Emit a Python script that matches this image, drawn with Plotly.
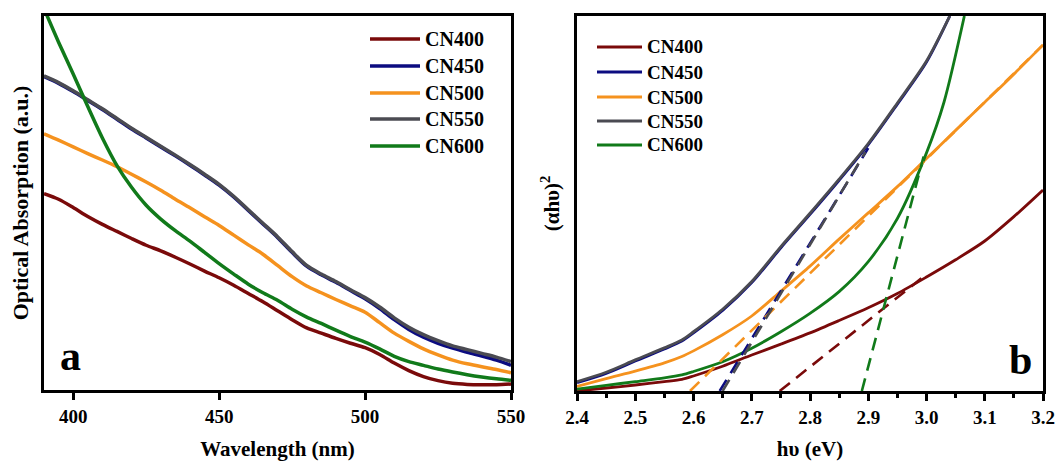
import plotly.graph_objects as go

# ---------------- Panel (a): optical absorption ----------------
wavelength = [390, 395, 400, 405, 410, 415, 420, 425, 430, 435, 440, 445, 450, 455, 460,
              465, 470, 475, 480, 485, 490, 495, 500, 505, 510, 515, 520, 525, 530, 535,
              540, 545, 550]
abs_cn400 = [0.525, 0.51, 0.488, 0.464, 0.443, 0.424, 0.405, 0.387, 0.372, 0.355, 0.337, 0.318,
             0.30, 0.28, 0.258, 0.236, 0.212, 0.188, 0.166, 0.152, 0.138, 0.125, 0.113, 0.095,
             0.072, 0.052, 0.036, 0.025, 0.018, 0.015, 0.014, 0.014, 0.016]
abs_cn450 = [0.838, 0.82, 0.798, 0.774, 0.75, 0.724, 0.698, 0.674, 0.65, 0.626, 0.601, 0.575,
             0.548, 0.516, 0.48, 0.444, 0.408, 0.368, 0.331, 0.308, 0.288, 0.266, 0.244, 0.218,
             0.188, 0.162, 0.141, 0.125, 0.112, 0.101, 0.091, 0.08, 0.066]
abs_cn500 = [0.685, 0.668, 0.65, 0.632, 0.615, 0.597, 0.577, 0.556, 0.534, 0.51, 0.487, 0.463,
             0.44, 0.414, 0.388, 0.363, 0.333, 0.303, 0.278, 0.26, 0.242, 0.225, 0.208, 0.18,
             0.152, 0.13, 0.11, 0.094, 0.08, 0.07, 0.062, 0.055, 0.046]
abs_cn550 = [0.84, 0.822, 0.80, 0.776, 0.752, 0.726, 0.70, 0.676, 0.652, 0.628, 0.603, 0.577,
             0.55, 0.518, 0.482, 0.446, 0.41, 0.37, 0.333, 0.31, 0.29, 0.268, 0.247, 0.222,
             0.193, 0.168, 0.148, 0.132, 0.118, 0.108, 0.098, 0.088, 0.076]
abs_cn600 = [1.02, 0.93, 0.845, 0.758, 0.674, 0.600, 0.542, 0.494, 0.457, 0.426, 0.398, 0.368,
             0.338, 0.31, 0.283, 0.26, 0.24, 0.216, 0.195, 0.178, 0.16, 0.143, 0.128, 0.11,
             0.09, 0.076, 0.066, 0.056, 0.048, 0.041, 0.035, 0.03, 0.026]

# ---------------- Panel (b): Tauc plot ----------------
ev_full = [2.40, 2.45, 2.50, 2.55, 2.58, 2.60, 2.65, 2.70, 2.75, 2.80, 2.85, 2.90, 2.95,
           3.00, 3.05, 3.10, 3.15, 3.20]
tauc_cn400 = [0.0, 0.008, 0.016, 0.025, 0.031, 0.04, 0.066, 0.096, 0.125, 0.155, 0.188, 0.222,
              0.26, 0.304, 0.35, 0.40, 0.465, 0.536]
tauc_cn500 = [0.012, 0.033, 0.053, 0.075, 0.092, 0.107, 0.15, 0.20, 0.266, 0.333, 0.405, 0.475,
              0.545, 0.62, 0.695, 0.77, 0.845, 0.923]
ev_steep = [2.40, 2.45, 2.50, 2.55, 2.58, 2.60, 2.65, 2.70, 2.75, 2.80, 2.85, 2.90, 2.95,
            3.00, 3.04]
tauc_cn450 = [0.022, 0.047, 0.08, 0.112, 0.133, 0.155, 0.215, 0.289, 0.382, 0.471, 0.562, 0.657,
              0.765, 0.877, 1.0]
tauc_cn550 = [0.025, 0.05, 0.083, 0.115, 0.136, 0.158, 0.218, 0.292, 0.385, 0.474, 0.565, 0.66,
              0.768, 0.88, 1.0]
ev_cn600 = [2.40, 2.45, 2.50, 2.55, 2.58, 2.60, 2.65, 2.70, 2.75, 2.80, 2.85, 2.90, 2.95,
            3.00, 3.03, 3.065]
tauc_cn600 = [0.005, 0.015, 0.025, 0.035, 0.043, 0.052, 0.078, 0.114, 0.158, 0.207, 0.265, 0.345,
              0.46, 0.635, 0.77, 1.0]

# linear (tangent) fits: band gap intercept, slope and end of fitted segment
band_gap = [2.748, 2.645, 2.594, 2.650, 2.889]
fit_slope = [1.235, 2.54, 1.523, 2.60, 5.90]
fit_end = [2.998, 2.90, 3.20, 2.895, 2.995]

names = ["CN400", "CN450", "CN500", "CN550", "CN600"]
colors = ["#7a0a0a", "#0c0c80", "#f5921e", "#4b4b52", "#117a1a"]

FONT = "Liberation Serif, Times New Roman, serif"

fig = go.Figure()

abs_series = [abs_cn400, abs_cn450, abs_cn500, abs_cn550, abs_cn600]
for name, col, ys in zip(names, colors, abs_series):
    fig.add_trace(go.Scatter(x=wavelength, y=ys, mode="lines", name=name,
                             line=dict(color=col, width=3.5, shape="spline", smoothing=0.8),
                             xaxis="x", yaxis="y", showlegend=False))

tauc_x = [ev_full, ev_steep, ev_full, ev_steep, ev_cn600]
tauc_y = [tauc_cn400, tauc_cn450, tauc_cn500, tauc_cn550, tauc_cn600]
for name, col, xs, ys in zip(names, colors, tauc_x, tauc_y):
    fig.add_trace(go.Scatter(x=xs, y=ys, mode="lines", name=name,
                             line=dict(color=col, width=2.8, shape="spline", smoothing=0.8),
                             xaxis="x2", yaxis="y2", showlegend=False))

for name, col, eg, k, xe in zip(names, colors, band_gap, fit_slope, fit_end):
    fig.add_trace(go.Scatter(x=[eg, xe], y=[0, k * (xe - eg)], mode="lines",
                             name=name + " fit",
                             line=dict(color=col, width=2.6, dash="13px,8px"),
                             xaxis="x2", yaxis="y2", showlegend=False))

W, H = 1058, 461
def px(x):
    return x / W
def py(y):
    return 1 - y / H

TICKFONT = dict(family=FONT, size=19, color="black", weight="bold")
axis_common = dict(showline=True, linewidth=3, linecolor="black", mirror=True,
                   showgrid=False, zeroline=False, automargin=False, tickfont=TICKFONT)

def title(text, standoff, size=21):
    return dict(text=text, standoff=standoff,
                font=dict(family=FONT, size=size, color="black", weight="bold"))

fig.update_layout(
    width=W, height=H,
    margin=dict(l=0, r=0, t=0, b=0, autoexpand=False),
    plot_bgcolor="white", paper_bgcolor="white",
    xaxis=dict(domain=[px(44), px(511)], range=[390, 550], tickvals=[400, 450, 500, 550],
               ticks="outside", ticklen=7, tickwidth=3, tickcolor="black",
               title=title("Wavelength (nm)", 18), anchor="y", **axis_common),
    yaxis=dict(domain=[py(390), py(16)], range=[0, 1.0], showticklabels=False, ticks="",
               title=title("Optical Absorption (a.u.)", 7, 22), anchor="x", **axis_common),
    xaxis2=dict(domain=[px(577), px(1043)], range=[2.4, 3.2], dtick=0.1, tick0=2.4,
                tickformat=".1f",
                ticks="outside", ticklen=7, tickwidth=3, tickcolor="black",
                minor=dict(dtick=0.05, ticks="outside", ticklen=4, tickwidth=2.5,
                           tickcolor="black"),
                title=title("hυ (eV)", 18), anchor="y2", **axis_common),
    yaxis2=dict(domain=[py(391), py(16)], range=[0, 1.0], showticklabels=False, ticks="",
                title=title("(αhυ)<sup>2</sup>", 9), anchor="x2", **axis_common),
)

# panel letters
LETTER_FONT = dict(family=FONT, size=42, color="black", weight="bold")
fig.add_annotation(text="a", x=px(58), y=py(381), xref="paper", yref="paper",
                   xanchor="left", yanchor="bottom", showarrow=False, font=LETTER_FONT)
fig.add_annotation(text="b", x=px(1034), y=py(385), xref="paper", yref="paper",
                   xanchor="right", yanchor="bottom", showarrow=False, font=LETTER_FONT)

# legends (drawn inside each panel)
legend_a_rows = [39, 66, 93, 119, 146]
legend_b_rows = [47, 72, 97, 121, 145]
for name, col, ya, yb in zip(names, colors, legend_a_rows, legend_b_rows):
    fig.add_shape(type="line", xref="paper", yref="paper", x0=px(370), x1=px(420),
                  y0=py(ya), y1=py(ya), line=dict(color=col, width=3.5))
    fig.add_annotation(text=name, x=px(423), y=py(ya), xref="paper", yref="paper",
                       xanchor="left", yanchor="middle", showarrow=False,
                       font=dict(family=FONT, size=20, color="black", weight="bold"))
    fig.add_shape(type="line", xref="paper", yref="paper", x0=px(597), x1=px(642),
                  y0=py(yb), y1=py(yb), line=dict(color=col, width=3))
    fig.add_annotation(text=name, x=px(645), y=py(yb), xref="paper", yref="paper",
                       xanchor="left", yanchor="middle", showarrow=False,
                       font=dict(family=FONT, size=19, color="black", weight="bold"))

fig.write_html("out.html")
